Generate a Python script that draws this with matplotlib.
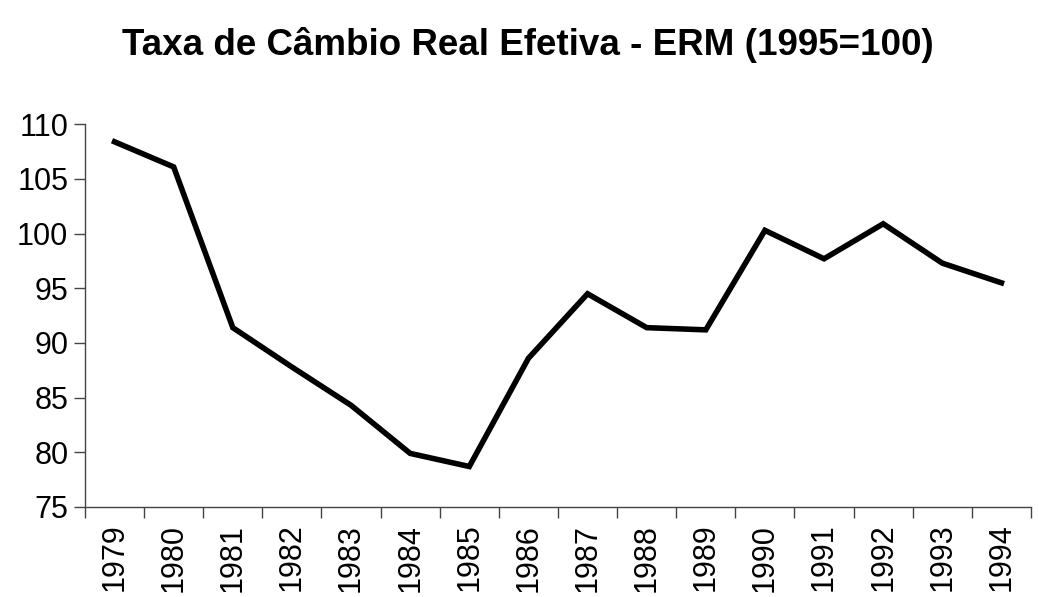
import numpy as np
import matplotlib.pyplot as plt
from matplotlib.ticker import FixedLocator

plt.rcParams['font.family'] = ['Liberation Sans', 'DejaVu Sans']

# Dados
anos = ['1979', '1980', '1981', '1982', '1983', '1984', '1985', '1986',
        '1987', '1988', '1989', '1990', '1991', '1992', '1993', '1994']
taxa = [108.4, 106.1, 91.4, 87.8, 84.3, 79.9, 78.7, 88.6,
        94.5, 91.4, 91.2, 100.3, 97.7, 100.9, 97.3, 95.5]
y_ticks = [75, 80, 85, 90, 95, 100, 105, 110]

fig = plt.figure(figsize=(10.39, 5.97), dpi=100)
ax = fig.add_axes([0.0818, 0.1508, 0.9105, 0.641])

x = np.arange(len(anos))
ax.plot(x, taxa, color='black', linewidth=4.0, solid_joinstyle='miter')

ax.set_xlim(-0.5, len(anos) - 0.5)
ax.set_ylim(75, 110)
ax.set_yticks(y_ticks)
ax.set_yticklabels([str(v) for v in y_ticks], fontsize=22)

# rótulos no centro, marcas entre as categorias
ax.set_xticks(x)
ax.set_xticklabels(anos, rotation=90, fontsize=22, va='top')
ax.xaxis.set_minor_locator(FixedLocator(np.arange(-0.5, len(anos), 1)))
ax.tick_params(axis='x', which='major', length=0, pad=12)
ax.tick_params(axis='x', which='minor', length=8, width=1, color='#444444', direction='out')
ax.tick_params(axis='y', length=8, width=1, color='#444444', direction='out', pad=4)

for lado in ['top', 'right']:
    ax.spines[lado].set_visible(False)
for lado in ['left', 'bottom']:
    ax.spines[lado].set_linewidth(1)
    ax.spines[lado].set_color('#444444')

fig.text(0.508, 0.925, 'Taxa de Câmbio Real Efetiva - ERM (1995=100)',
         ha='center', va='center', fontsize=26.5, fontweight='bold')

fig.savefig('out.png', dpi=100)
